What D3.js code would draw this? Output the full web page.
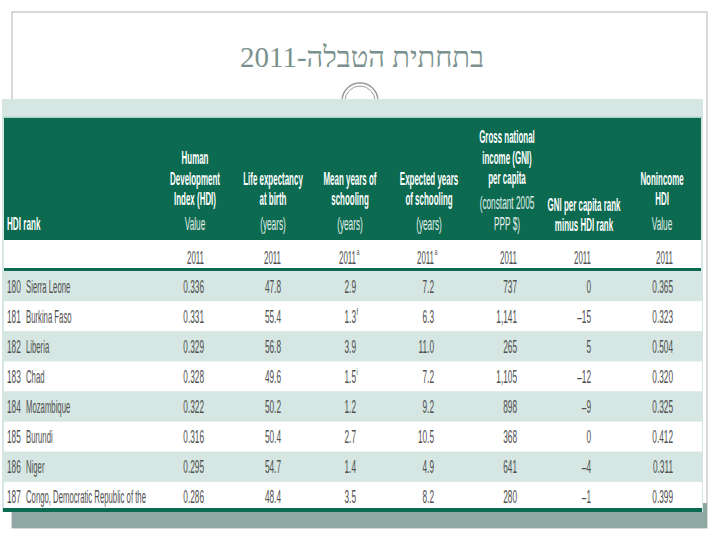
<!DOCTYPE html>
<html>
<head>
<meta charset="utf-8">
<script src="https://cdn.jsdelivr.net/npm/d3@7"></script>
<style>
  html, body { margin: 0; padding: 0; background: #fff; }
  svg { display: block; }
</style>
</head>
<body>
<svg id="chart" width="720" height="540"></svg>
<script>
// ---- DATA ----
const titleText = "בתחתית הטבלה-2011";
const ranks = [180, 181, 182, 183, 184, 185, 186, 187];
const countries = ["Sierra Leone", "Burkina Faso", "Liberia", "Chad", "Mozambique", "Burundi", "Niger", "Congo, Democratic Republic of the"];
const hdi = [0.336, 0.331, 0.329, 0.328, 0.322, 0.316, 0.295, 0.286];
const lifeExp = [47.8, 55.4, 56.8, 49.6, 50.2, 50.4, 54.7, 48.4];
const meanSchool = [2.9, 1.3, 3.9, 1.5, 1.2, 2.7, 1.4, 3.5];
const meanSchoolNote = ["", "f", "", "i", "", "", "", ""];
const expSchool = [7.2, 6.3, 11.0, 7.2, 9.2, 10.5, 4.9, 8.2];
const gni = [737, 1141, 265, 1105, 898, 368, 641, 280];
const gniRankDiff = [0, -15, 5, -12, -9, 0, -4, -1];
const nonincome = [0.365, 0.323, 0.504, 0.320, 0.325, 0.412, 0.311, 0.399];

const headerBold = [
  ["Human", "Development", "Index (HDI)"],
  ["Life expectancy", "at birth"],
  ["Mean years of", "schooling"],
  ["Expected years", "of schooling"],
  ["Gross national", "income (GNI)", "per capita"],
  ["GNI per capita rank", "minus HDI rank"],
  ["Nonincome", "HDI"]
];
const headerLight = [
  ["Value"], ["(years)"], ["(years)"], ["(years)"], ["(constant 2005", "PPP $)"], [], ["Value"]
];
const yearLabels = ["2011", "2011", "2011", "2011", "2011", "2011", "2011"];
const yearNotes = ["", "", "a", "a", "", "", ""];
const rankHeader = "HDI rank";

// ---- LAYOUT ----
const svg = d3.select("#chart");
const green = "#0b6a4f";
const teal = "#d6e6e2";
const valColor = "#505050";
const sansFont = "'Liberation Sans', Arial, sans-serif";

// column layout (right edges for values, centres for headers)
const colRight = [204, 281, 356, 434, 517, 591, 673];
const colCenter = [195, 273, 350, 429, 507, 584, 662];

const fmt3 = d3.format(".3f"), fmt1 = d3.format(".1f"), fmtC = d3.format(",");
const fmtDiff = v => d3.format("d")(v).replace("\u2212", "\u2013").replace("-", "\u2013");
const columns = [
  { vals: hdi, f: fmt3 },
  { vals: lifeExp, f: fmt1 },
  { vals: meanSchool, f: fmt1, notes: meanSchoolNote },
  { vals: expSchool, f: fmt1 },
  { vals: gni, f: fmtC },
  { vals: gniRankDiff, f: fmtDiff },
  { vals: nonincome, f: fmt3 }
];

function cText(parent, x, y, str, o) {
  return parent.append("text")
    .attr("transform", `translate(${x},${y}) scale(${o.sx},1)`)
    .attr("text-anchor", o.anchor || "middle")
    .attr("font-family", sansFont)
    .attr("font-size", o.size)
    .attr("font-weight", o.weight || "normal")
    .attr("fill", o.fill)
    .text(str);
}

// slide frame
svg.append("rect").attr("x", 12).attr("y", 12).attr("width", 695).attr("height", 516)
  .attr("fill", "#fff").attr("stroke", "#b4b4b4").attr("stroke-width", 1);

// title
svg.append("text")
  .attr("x", 362).attr("y", 67)
  .attr("text-anchor", "middle")
  .attr("direction", "rtl")
  .attr("font-family", "'Liberation Serif', 'DejaVu Serif', serif")
  .attr("font-size", 29)
  .attr("fill", "#7a918d")
  .text(titleText);

// ornament circle
svg.append("circle").attr("cx", 360).attr("cy", 101).attr("r", 18)
  .attr("fill", "#fff").attr("stroke", "#9a9a9a").attr("stroke-width", 1.5);
svg.append("circle").attr("cx", 360).attr("cy", 101).attr("r", 15)
  .attr("fill", "none").attr("stroke", "#9a9a9a").attr("stroke-width", 1);

// shadow
svg.append("rect").attr("x", 12).attr("y", 512).attr("width", 695).attr("height", 16).attr("fill", "#8fa8a4");
svg.append("rect").attr("x", 702).attr("y", 503).attr("width", 5).attr("height", 25).attr("fill", "#8fa8a4");

// table background
svg.append("rect").attr("x", 2).attr("y", 99).attr("width", 701).attr("height", 413).attr("fill", teal);
svg.append("rect").attr("x", 3).attr("y", 116.5).attr("width", 699).attr("height", 2).attr("fill", "#a9d6c6");

// header
svg.append("rect").attr("x", 4).attr("y", 118).attr("width", 697).attr("height", 122).attr("fill", green);
const hdr = svg.append("g");
cText(hdr, 7, 230, rankHeader, { sx: 0.44, size: 18.5, weight: "bold", fill: "#fff", anchor: "start" });
headerBold.forEach((lines, i) => {
  const light = headerLight[i];
  let y = 224;
  const lightYs = [];
  for (let k = light.length - 1; k >= 0; k--) { lightYs[k] = y; y -= 21; }
  if (light.length) y = lightYs[0] - 25.5;
  for (let k = lines.length - 1; k >= 0; k--) {
    cText(hdr, colCenter[i], y + 6.5, lines[k], { sx: 0.43, size: 18.5, weight: "bold", fill: "#fff" });
    y -= (light.length ? 20.5 : 19.5);
  }
  light.forEach((t, k) => cText(hdr, colCenter[i], lightYs[k] + 6.3, t, { sx: 0.46, size: 18, fill: "#e4efeb" }));
});

// year row
svg.append("rect").attr("x", 4).attr("y", 240).attr("width", 697).attr("height", 28).attr("fill", "#fff");
yearLabels.forEach((t, i) => {
  cText(svg, colRight[i], 263.5, t, { sx: 0.44, size: 18, fill: valColor, anchor: "end" });
  if (yearNotes[i]) cText(svg, colRight[i] + 0.5, 255, yearNotes[i], { sx: 0.6, size: 9, fill: valColor, anchor: "start" });
});
svg.append("rect").attr("x", 4).attr("y", 268).attr("width", 697).attr("height", 3).attr("fill", green);

// rows
const y = d3.scaleBand().domain(ranks).range([271, 512]).paddingInner(0);
const rows = svg.append("g").selectAll("g").data(ranks).join("g")
  .attr("transform", d => `translate(0,${y(d)})`);
rows.append("rect")
  .attr("x", (d, i) => i % 2 ? 4 : 2).attr("y", 0)
  .attr("width", (d, i) => i % 2 ? 698 : 701)
  .attr("height", y.bandwidth())
  .attr("fill", (d, i) => i % 2 ? "#fff" : teal);
rows.each(function (d, i) {
  const g = d3.select(this);
  const cy = y.bandwidth() / 2 + 6.5;
  cText(g, 7, cy, String(d), { sx: 0.46, size: 18, fill: valColor, anchor: "start" });
  cText(g, 26, cy, countries[i], { sx: 0.43, size: 18, fill: valColor, anchor: "start" });
  columns.forEach((c, j) => {
    cText(g, colRight[j], cy, c.f(c.vals[i]), { sx: 0.46, size: 18, fill: valColor, anchor: "end" });
    if (c.notes && c.notes[i]) cText(g, colRight[j] + 0.5, cy - 7.5, c.notes[i], { sx: 0.6, size: 9.5, fill: valColor, anchor: "start" });
  });
});

// bottom rule
svg.append("rect").attr("x", 3).attr("y", 508).attr("width", 699).attr("height", 4).attr("fill", green);
</script>
</body>
</html>
